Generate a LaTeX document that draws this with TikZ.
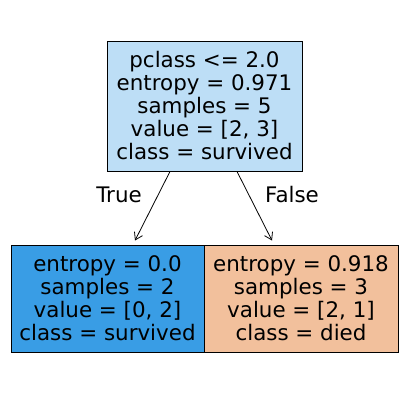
\documentclass[tikz,border=0pt]{standalone}
\usepackage{fontspec}
\setmainfont{DejaVu Sans}
\usepackage{tikz}
\usetikzlibrary{arrows.meta}
\definecolor{rootblue}{HTML}{BDDEF6}
\definecolor{leafblue}{HTML}{399DE5}
\definecolor{leaforange}{HTML}{F2C09C}

\begin{document}
\begin{tikzpicture}[
    x=1pt, y=-1pt,
    font=\fontsize{21.4}{23}\selectfont,
    split/.style={rectangle, draw=black, line width=1pt, inner sep=0pt, align=center},
    arrow/.style={-{Straight Barb[length=7pt,width=9pt]}, line width=0.8pt}
]
\useasboundingbox (0,0) rectangle (407,405);

% Root split
\node[split, fill=rootblue, minimum width=195pt, minimum height=130pt] (root) at (204.5,106)
    {pclass <= 2.0\\entropy = 0.971\\samples = 5\\value = [2, 3]\\class = survived};

% Leaves
\node[split, fill=leafblue, minimum width=193pt, minimum height=107pt] (left) at (107.5,298.5)
    {entropy = 0.0\\samples = 2\\value = [0, 2]\\class = survived};
\node[split, fill=leaforange, minimum width=194pt, minimum height=107pt] (right) at (301,298.5)
    {entropy = 0.918\\samples = 3\\value = [2, 1]\\class = died};

% Branches
\draw[arrow] ([xshift=-34.5pt]root.south) -- ([xshift=27.5pt,yshift=4pt]left.north);
\draw[arrow] ([xshift=32.5pt]root.south) -- ([xshift=-29pt,yshift=4pt]right.north);

% Branch labels
\node (true) at (119,195) {True};
\node (false) at (292,195) {False};

\end{tikzpicture}
\end{document}
